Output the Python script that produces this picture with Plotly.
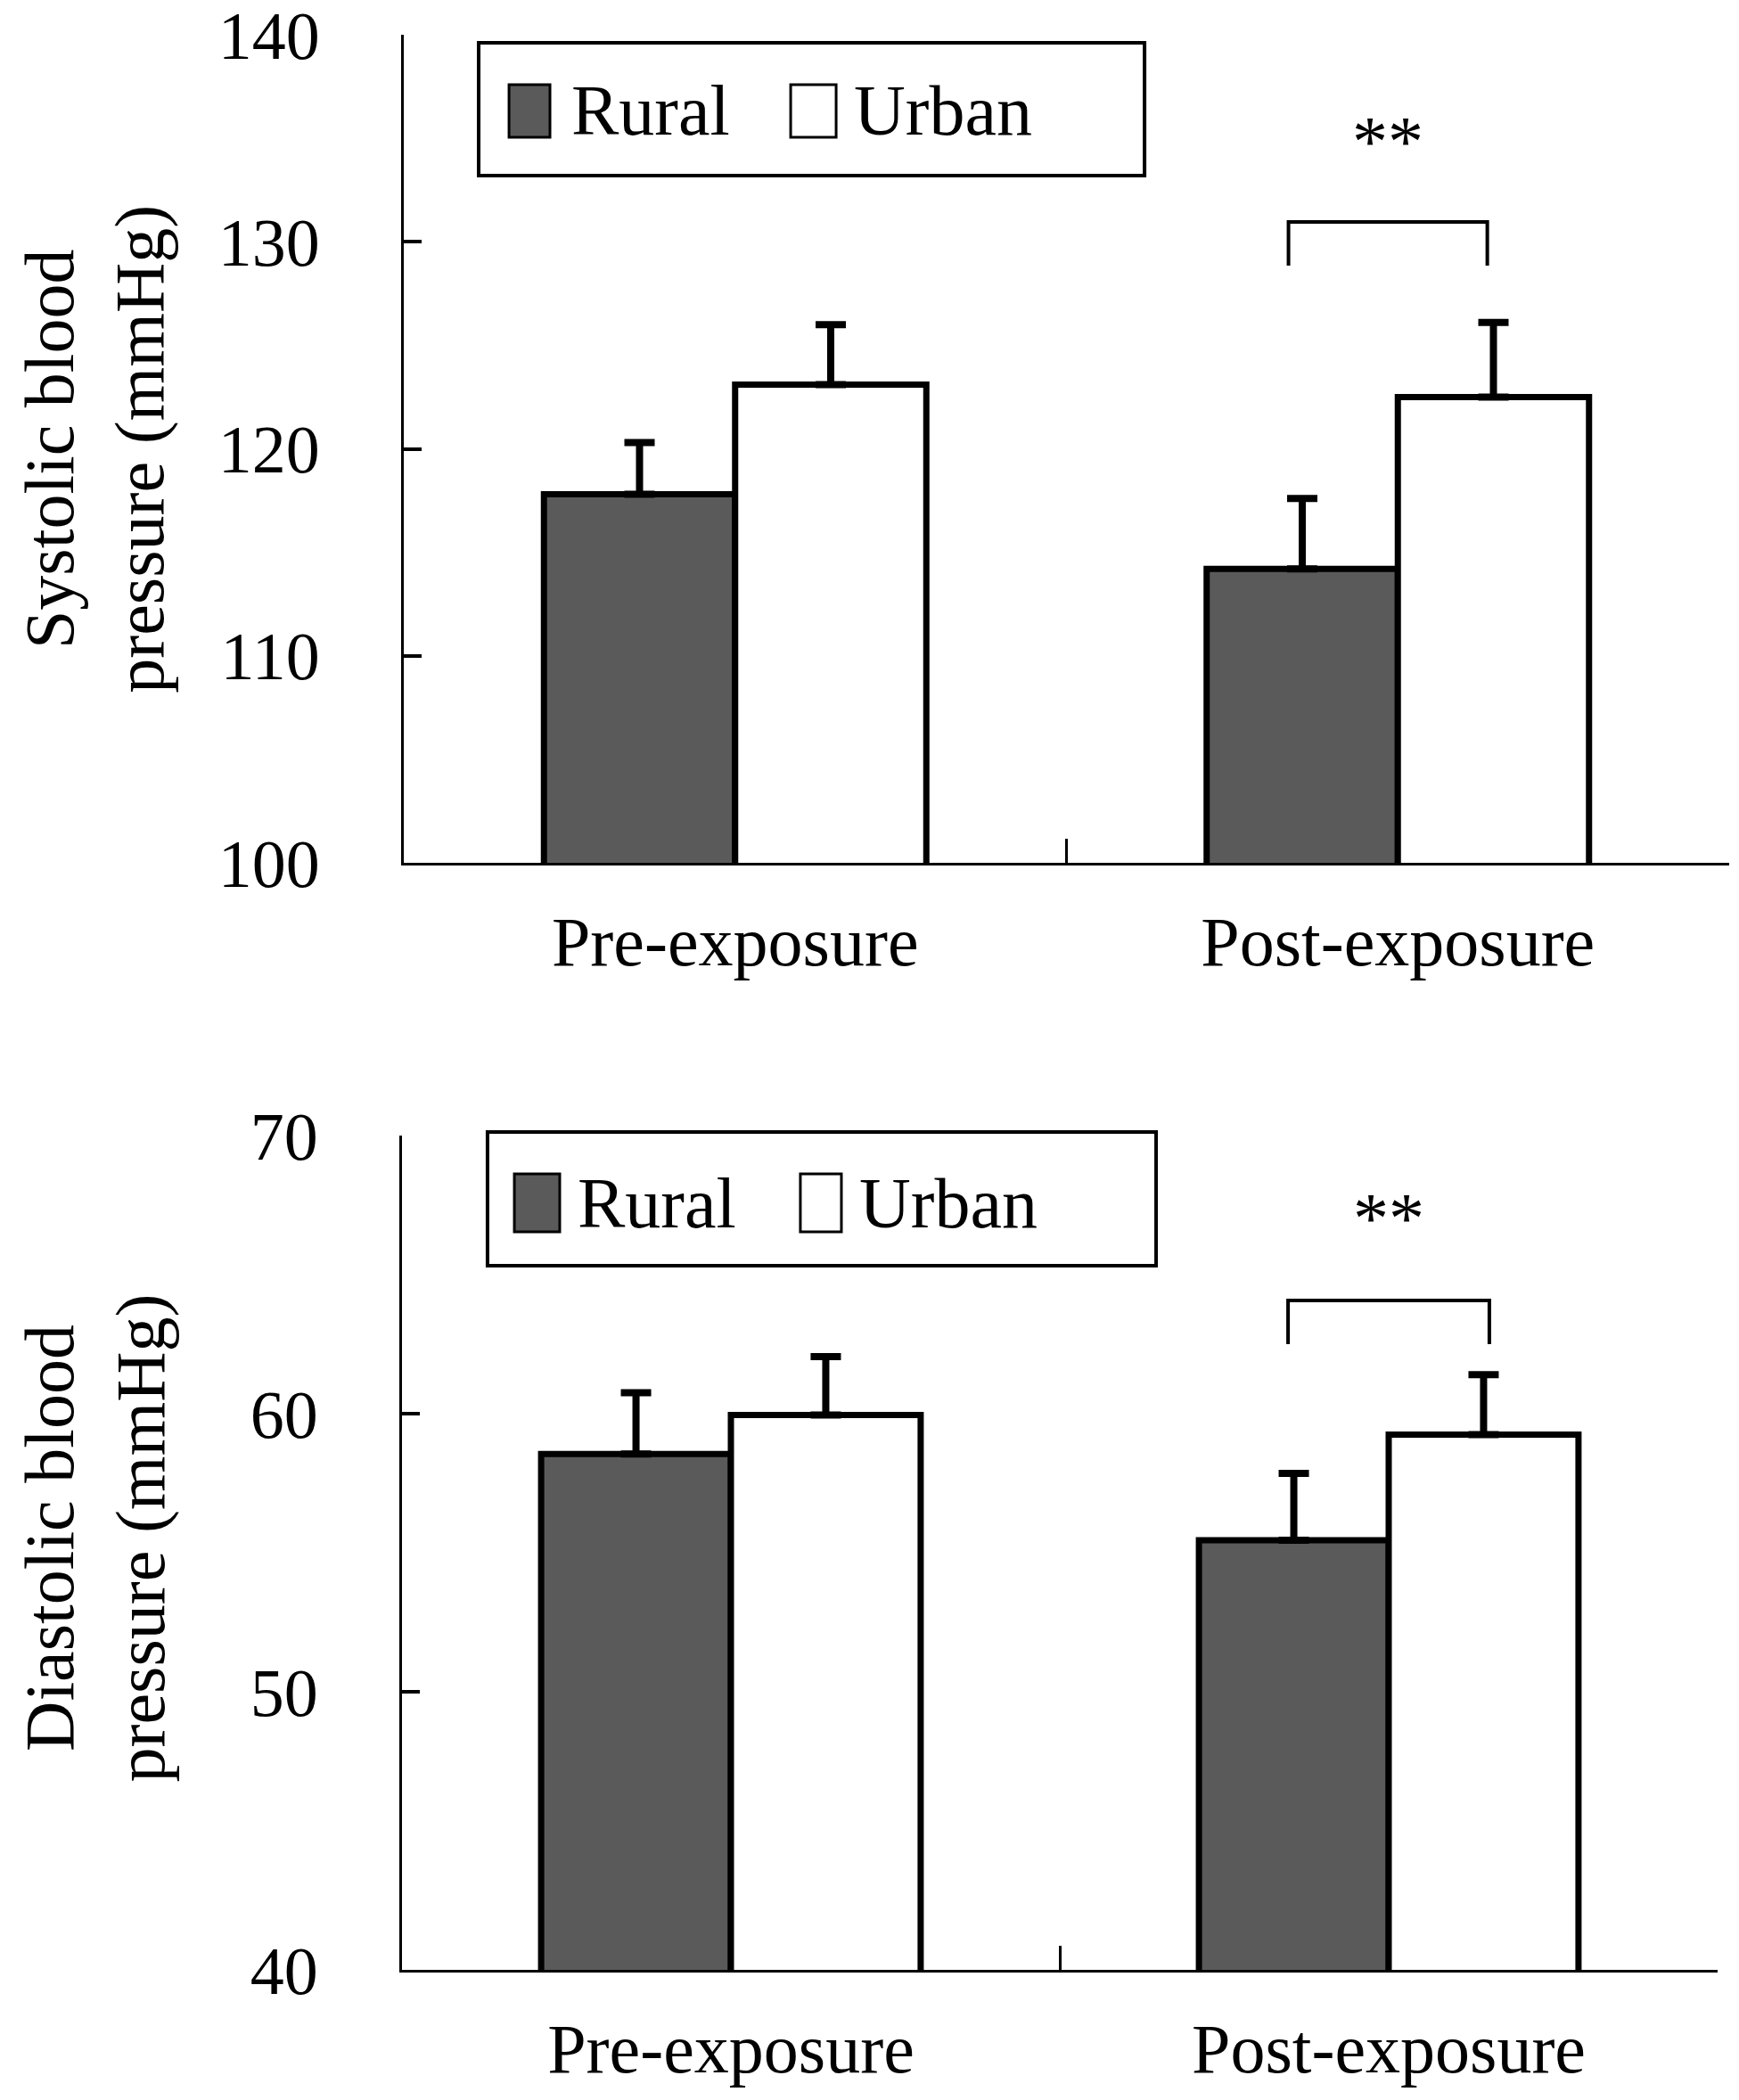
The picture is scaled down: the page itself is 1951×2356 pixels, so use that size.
import plotly.graph_objects as go

# ---------------- data ----------------
categories = ["Pre-exposure", "Post-exposure"]
groups = ["Rural", "Urban"]

sys_rural = [117.8, 114.2]
sys_rural_err = [2.5, 3.4]
sys_urban = [123.1, 122.5]
sys_urban_err = [2.9, 3.6]

dia_rural = [58.55, 55.45]
dia_rural_err = [2.2, 2.4]
dia_urban = [59.95, 59.25]
dia_urban_err = [2.1, 2.15]

sys_ticks = [100, 110, 120, 130, 140]
dia_ticks = [40, 50, 60, 70]

sig_label = "**"
sys_bracket = [128.85, 130.96]   # bracket foot / top (mmHg)
dia_bracket = [62.5, 64.07]
sys_star_y = 135.1
dia_star_y = 67.2

sys_title = "Systolic blood<br>pressure (mmHg)"
dia_title = "Diastolic blood<br>pressure (mmHg)"

# ---------------- style / layout ----------------
FONT = "Liberation Serif, Times New Roman, serif"
DARK = "#5a5a5a"
OFF = 8                      # default page body margin
W, H = 1951 - 2 * OFF, 2356 - 2 * OFF
# plot-area edges in page pixels
TOP_L, TOP_R, TOP_T, TOP_B = 453, 1940, 39, 968
BOT_L, BOT_R, BOT_T, BOT_B = 451, 1927, 1274, 2210

ML = BOT_L - OFF
MR = W - (TOP_R - OFF)
MT = TOP_T - OFF
MB = H - (BOT_B - OFF)
PW = W - ML - MR
PH = H - MT - MB


def px_x(p):
    return (p - OFF - ML) / PW


def px_y(p):
    return (H - MB - (p - OFF)) / PH


fig = go.Figure()


def add_bars(vals, errs, color, name, xa, ya):
    fig.add_trace(go.Bar(
        x=categories, y=vals, name=name, xaxis=xa, yaxis=ya,
        marker=dict(color=color, line=dict(color="black", width=7)),
        error_y=dict(type="data", array=errs, arrayminus=[0] * len(errs),
                     symmetric=False, color="black", thickness=8, width=17),
        showlegend=False,
    ))


add_bars(sys_rural, sys_rural_err, DARK, groups[0], "x", "y")
add_bars(sys_urban, sys_urban_err, "white", groups[1], "x", "y")
add_bars(dia_rural, dia_rural_err, DARK, groups[0], "x2", "y2")
add_bars(dia_urban, dia_urban_err, "white", groups[1], "x2", "y2")

xcommon = dict(showline=True, linecolor="black", linewidth=3, ticks="inside",
               tickson="boundaries", ticklen=27, tickwidth=3, tickcolor="black",
               tickfont=dict(family=FONT, size=78, color="black"),
               ticklabelstandoff=18, ticklabeloverflow="allow",
               showgrid=False, zeroline=False,
               type="category", fixedrange=True, automargin=False)
ycommon = dict(showline=True, linecolor="black", linewidth=3, ticks="inside",
               ticklen=20, tickwidth=4, tickcolor="black",
               tickfont=dict(family=FONT, size=76, color="black"),
               ticklabelstandoff=76, ticklabeloverflow="allow",
               showgrid=False, zeroline=False, automargin=False)

fig.update_layout(
    width=W, height=H,
    margin=dict(l=ML, r=MR, t=MT, b=MB, autoexpand=False),
    paper_bgcolor="white", plot_bgcolor="white",
    barmode="group", bargap=0.423, bargroupgap=0,
    showlegend=False,
    xaxis=dict(domain=[px_x(TOP_L), px_x(TOP_R)], anchor="y", **xcommon),
    yaxis=dict(domain=[px_y(TOP_B), px_y(TOP_T)], anchor="x", range=[100, 140],
               tickvals=sys_ticks, **ycommon),
    xaxis2=dict(domain=[px_x(BOT_L), px_x(BOT_R)], anchor="y2", **xcommon),
    yaxis2=dict(domain=[px_y(BOT_B), px_y(BOT_T)], anchor="x2", range=[40, 70],
                tickvals=dia_ticks, **ycommon),
)

shapes = []
annotations = []


def panel_decor(xa, ya, title, title_y, bracket, bx0, bx1, star_y, star_dx,
                box, sw1, sw2, t1x, t2x, legy):
    xd, yd = xa + " domain", ya + " domain"
    # y-axis title
    annotations.append(dict(text=title, xref=xd, yref=yd, x=-0.2335, y=title_y,
                            textangle=-90, showarrow=False, xanchor="center",
                            yanchor="middle",
                            font=dict(family=FONT, size=78, color="black")))
    # significance bracket
    shapes.append(dict(type="path", xref=xa, yref=ya,
                       path=f"M {1 + bx0},{bracket[0]} L {1 + bx0},{bracket[1]} "
                            f"L {1 + bx1},{bracket[1]} L {1 + bx1},{bracket[0]}",
                       line=dict(color="black", width=4)))
    annotations.append(dict(text=sig_label, xref=xa, yref=ya, x=1 + star_dx, y=star_y,
                            showarrow=False, yshift=-6,
                            font=dict(family=FONT, size=80, color="black")))
    # legend box
    shapes.append(dict(type="rect", xref=xd, yref=yd, x0=box[0], x1=box[1],
                       y0=box[2], y1=box[3], line=dict(color="black", width=4),
                       fillcolor="white", layer="below"))
    shapes.append(dict(type="rect", xref=xd, yref=yd, x0=sw1[0], x1=sw1[1],
                       y0=sw1[2], y1=sw1[3], line=dict(color="black", width=3),
                       fillcolor=DARK))
    shapes.append(dict(type="rect", xref=xd, yref=yd, x0=sw2[0], x1=sw2[1],
                       y0=sw2[2], y1=sw2[3], line=dict(color="black", width=3),
                       fillcolor="white"))
    for txt, tx in ((groups[0], t1x), (groups[1], t2x)):
        annotations.append(dict(text=txt, xref=xd, yref=yd, x=tx, y=legy,
                                showarrow=False, xanchor="left", yanchor="middle",
                                font=dict(family=FONT, size=80, color="black")))


panel_decor("x", "y", sys_title, 0.4995, sys_bracket, -0.165, 0.135, sys_star_y, -0.015,
            box=(0.0565, 0.5589, 0.8299, 0.9903),
            sw1=(0.0794, 0.1103, 0.8762, 0.9397),
            sw2=(0.2919, 0.3262, 0.8762, 0.9397),
            t1x=0.1250, t2x=0.3380, legy=0.908)
panel_decor("x2", "y2", dia_title, 0.518, dia_bracket, -0.153, 0.153, dia_star_y, 0.0,
            box=(0.065, 0.5732, 0.844, 1.0043),
            sw1=(0.0854, 0.1199, 0.8846, 0.954),
            sw2=(0.3028, 0.334, 0.8846, 0.954),
            t1x=0.1320, t2x=0.3460, legy=0.919)

fig.update_layout(shapes=shapes, annotations=annotations)
fig.write_html("out.html")
